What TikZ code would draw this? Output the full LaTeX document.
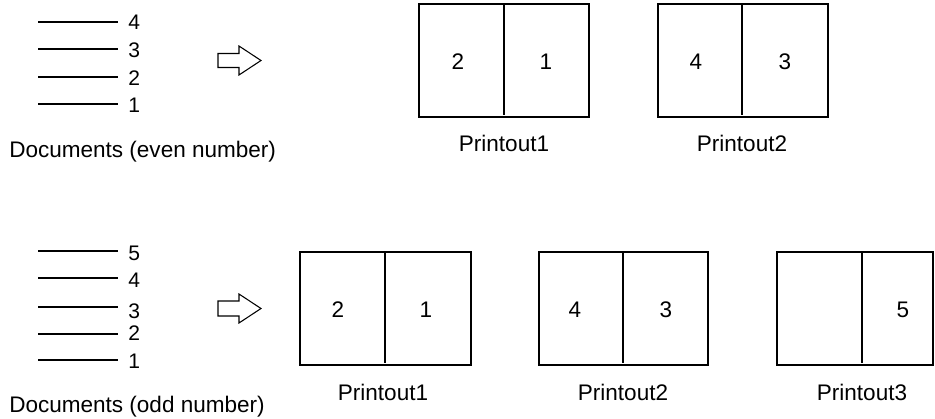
\documentclass[tikz,border=0pt]{standalone}
\usepackage{fontspec}
\setmainfont{Liberation Sans}
\begin{document}
\begin{tikzpicture}[x=0.75pt,y=-0.75pt,
  lbl/.style={inner sep=0pt,font=\fontsize{16.9}{19}\selectfont},
  num/.style={inner sep=0pt,font=\fontsize{15.8}{18}\selectfont,anchor=west},
  page/.style={draw,line width=1.7pt},
  docline/.style={line width=1.1pt},
  blockarrow/.style={draw,line width=0.8pt,fill=white}]
\useasboundingbox (0,0) rectangle (935,418);

% ---------- top: even number ----------
\foreach \y/\ly/\n in {22/22/4,49/50/3,77/78/2,104/105/1}{
  \coordinate (te\n a) at (38,\y);
  \coordinate (te\n b) at (118,\y);
  \draw[docline] (te\n a) -- (te\n b);
  \node[num] (ten\n) at (128,\ly) {\n};
}
\node[lbl,anchor=west] (evenlbl) at (9,152) {Documents (even number)};
\draw[blockarrow] (218,53.5) -- (239,53.5) -- (239,46) -- (261,60.5) -- (239,75) -- (239,67.5) -- (218,67.5) -- cycle;

\draw[page] (419,4) rectangle (589,117);
\draw[page] (504,4) -- (504,115);
\node[lbl] (ta2) at (458,62) {2};
\node[lbl] (ta1) at (546,62) {1};
\node[lbl] (tp1) at (504,143) {Printout1};

\draw[page] (658,4) rectangle (828,117);
\draw[page] (742,4) -- (742,115);
\node[lbl] (tb4) at (696,62) {4};
\node[lbl] (tb3) at (785,62) {3};
\node[lbl] (tp2) at (742,143) {Printout2};

% ---------- bottom: odd number ----------
\foreach \y/\ly/\n in {251/253/5,278/280/4,307/311/3,334/333/2,360/361/1}{
  \coordinate (bo\n a) at (38,\y);
  \coordinate (bo\n b) at (118,\y);
  \draw[docline] (bo\n a) -- (bo\n b);
  \node[num] (bon\n) at (128,\ly) {\n};
}
\node[lbl,anchor=west] (oddlbl) at (9,407) {Documents (odd number)};
\draw[blockarrow] (218,301) -- (239,301) -- (239,294) -- (261,308.5) -- (239,323) -- (239,316) -- (218,316) -- cycle;

\draw[page] (300,252) rectangle (471,365);
\draw[page] (385,252) -- (385,363);
\node[lbl] (ba2) at (338,310) {2};
\node[lbl] (ba1) at (426,310) {1};
\node[lbl] (bp1) at (383,392) {Printout1};

\draw[page] (539,252) rectangle (708,365);
\draw[page] (623,252) -- (623,363);
\node[lbl] (bb4) at (575,310) {4};
\node[lbl] (bb3) at (666,310) {3};
\node[lbl] (bp2) at (623,392) {Printout2};

\draw[page] (777,252) rectangle (933,365);
\draw[page] (862,252) -- (862,363);
\node[lbl] (bc5) at (903,310) {5};
\node[lbl] (bp3) at (862,392) {Printout3};
\end{tikzpicture}
\end{document}
